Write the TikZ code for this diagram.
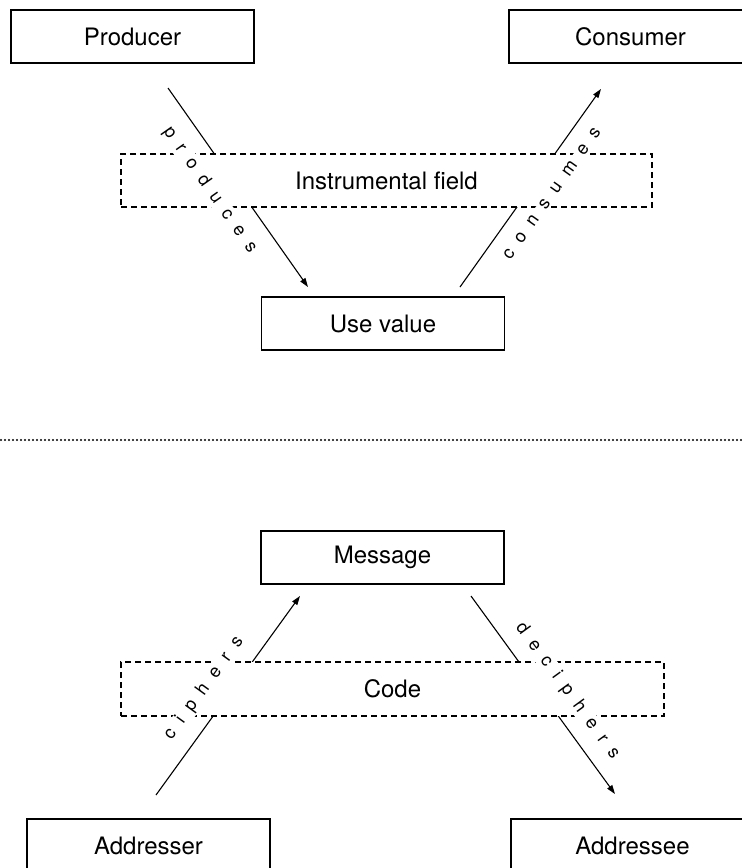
\documentclass[tikz,border=0pt]{standalone}
\usepackage{fontspec}
\setmainfont{TeX Gyre Heros}
\usetikzlibrary{arrows.meta}
\newcommand\lsp{\kern0.6em}
\tikzset{
  box/.style={draw, line width=1.6pt, minimum width=243pt, minimum height=53pt, inner sep=0pt, font=\fontsize{24}{28}\selectfont},
  field/.style={draw, fill=white, line width=1.4pt, dash pattern=on 6pt off 4pt, inner sep=0pt, font=\fontsize{24}{28}\selectfont},
  conn/.style={line width=1.1pt},
  arr/.style={conn, -{Triangle[length=9pt,width=6pt]}},
  lbl/.style={fill=white, inner sep=0.5pt, font=\fontsize{18}{20}\selectfont},
  dotline/.style={line width=2.1pt, dash pattern=on 0pt off 4pt, line cap=round},
}
\begin{document}
\begin{tikzpicture}[x=1pt, y=-1pt]
\useasboundingbox (0,0) rectangle (742,868);
% boxes
\node[box] (prod) at (132.5,36.5) {Producer};
\node[box] (cons) at (630.5,36.5) {Consumer};
\node[box] (use)  at (383,323.5) {Use value};
\node[box] (msg)  at (382.5,557.5) {Message};
\node[box] (adr)  at (148.5,845.5) {Addresser};
\node[box] (ade)  at (632.5,845.5) {Addressee};
% connector end points
\coordinate (pa) at (168,88);  \coordinate (pb) at (308,287);
\coordinate (ca) at (460,287); \coordinate (cb) at (601,89);
\coordinate (ia) at (156,795); \coordinate (ib) at (300,596);
\coordinate (da) at (471,596); \coordinate (db) at (615,794);
\draw[arr] (pa) -- (pb);
\draw[arr] (ca) -- (cb);
\draw[arr] (ia) -- (ib);
\draw[arr] (da) -- (db);
% dashed fields
\node[field, minimum width=531pt, minimum height=53pt] (ifield) at (386.5,180.5) {Instrumental field};
\node[field, minimum width=543pt, minimum height=54pt] (code) at (392.5,689) {Code};
% labels
\node[lbl, rotate=-54.9] (lprod) at (210,190) {p\lsp r\lsp o\lsp d\lsp u\lsp c\lsp e\lsp s};
\node[lbl, rotate=54.7] (lcons) at (552,193.5) {c\lsp o\lsp n\lsp s\lsp u\lsp m\lsp e\lsp s};
\node[lbl, rotate=54.1] (lciph) at (204,688.5) {c\lsp i\lsp p\lsp h\lsp e\lsp r\lsp s};
\node[lbl, rotate=-54] (ldeci) at (567.5,691) {d\lsp e\lsp c\lsp i\lsp p\lsp h\lsp e\lsp r\lsp s};
% separator
\coordinate (s1) at (1,440); \coordinate (s2) at (742,440);
\draw[dotline] (s1) -- (s2);
\end{tikzpicture}
\end{document}
